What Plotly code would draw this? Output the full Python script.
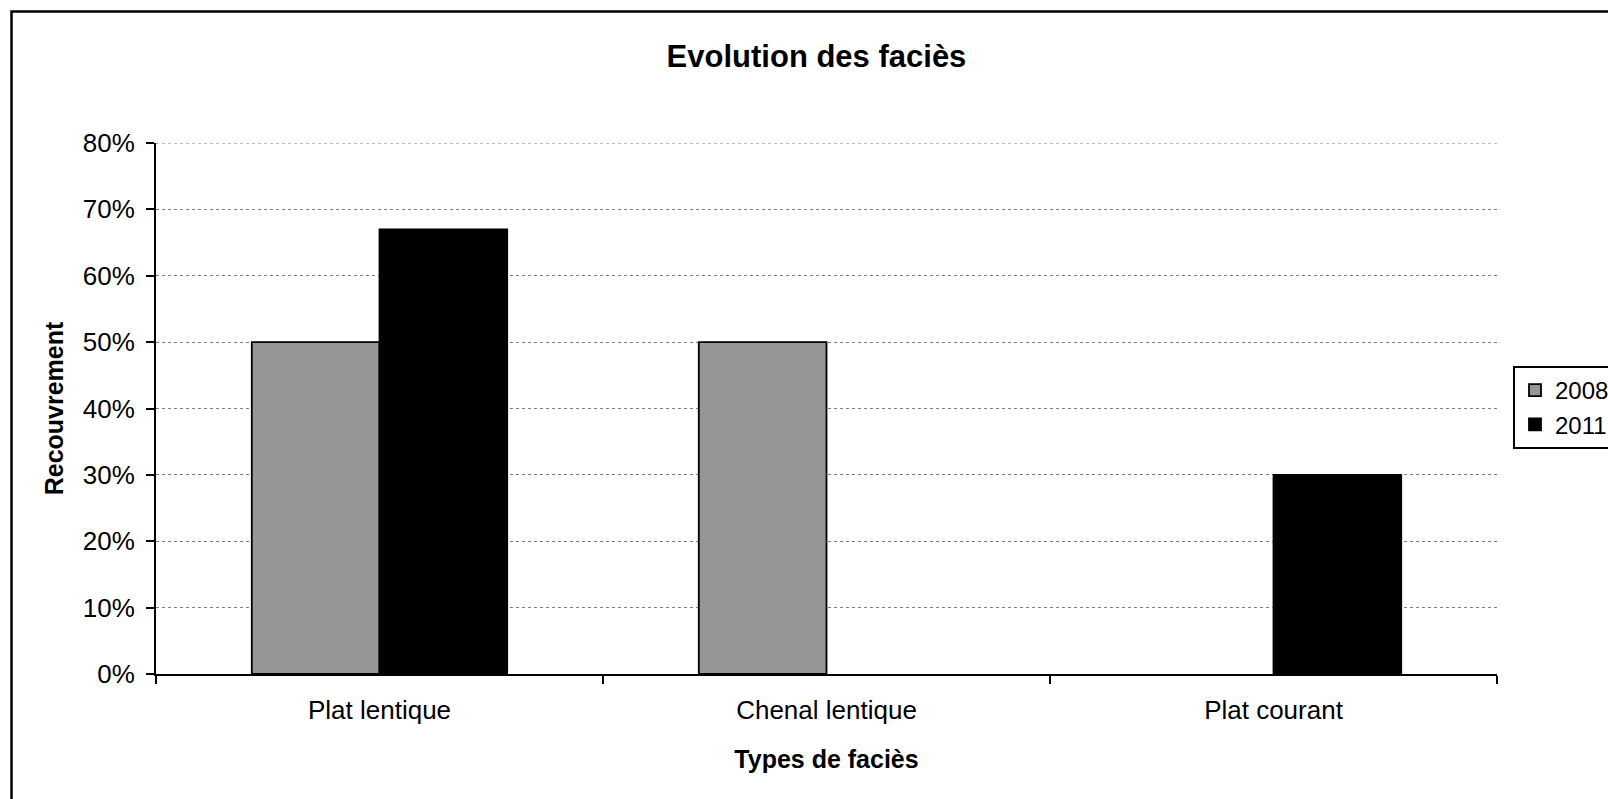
import plotly.graph_objects as go

# Data
categories = ["Plat lentique", "Chenal lentique", "Plat courant"]
series_names = ["2008", "2011"]
values_2008 = [0.50, 0.50, None]
values_2011 = [0.67, None, 0.30]
y_ticks = [0.0, 0.1, 0.2, 0.3, 0.4, 0.5, 0.6, 0.7, 0.8]

W, H = 1608, 799
L, R, T, B = 156, 1497, 143, 674  # plot area in pixels
FONT = "Liberation Sans, Arial, sans-serif"
GRID = dict(color="#808080", width=1, dash="dot")

fig = go.Figure()
fig.add_trace(go.Bar(
    name=series_names[0], x=categories, y=values_2008,
    marker=dict(color="#969696", line=dict(color="#000000", width=1.8)),
))
fig.add_trace(go.Bar(
    name=series_names[1], x=categories, y=values_2011,
    marker=dict(color="#000000", line=dict(color="#000000", width=1.8)),
))

def px_x(p):
    return (p - L) / (R - L)

def px_y(p):
    return (B - p) / (B - T)

# outer chart frame (runs off the right and bottom edges)
fig.add_shape(type="rect", xref="paper", yref="paper",
              x0=px_x(11.5), x1=px_x(1640), y0=px_y(830), y1=px_y(11.5),
              line=dict(color="#000000", width=2.5), fillcolor="rgba(0,0,0,0)",
              layer="below")

# top gridline sits on the upper edge of the plot area, so draw it explicitly
fig.add_shape(type="line", xref="paper", yref="y", x0=0, x1=1,
              y0=y_ticks[-1], y1=y_ticks[-1], line=GRID, layer="below")

fig.update_layout(
    width=W, height=H,
    margin=dict(l=L, r=W - R, t=T, b=H - B, autoexpand=False),
    paper_bgcolor="#ffffff", plot_bgcolor="#ffffff",
    barmode="group", bargap=1.5 / 3.5, bargroupgap=0,
    font=dict(family=FONT, size=26, color="#000000"),
    title=dict(text="<b>Evolution des faciès</b>", font=dict(size=31, color="#000000"),
               x=816.5 / W, xref="container", xanchor="center",
               y=1 - 56 / H, yref="container", yanchor="middle"),
    legend=dict(xref="container", yref="container", x=1513 / W, y=1 - 366 / H,
                xanchor="left", yanchor="top",
                bordercolor="#000000", borderwidth=2, bgcolor="#ffffff",
                font=dict(size=24, color="#000000"), itemwidth=30),
    showlegend=True,
)

fig.update_xaxes(
    showline=True, linecolor="#000000", linewidth=2,
    ticks="outside", tickson="boundaries", ticklen=8, tickwidth=2, tickcolor="#000000",
    showgrid=False, mirror=False,
    tickfont=dict(size=26), ticklabelstandoff=12,
    title=dict(text="<b>Types de faciès</b>", font=dict(size=25), standoff=26),
)
fig.update_yaxes(
    range=[0, 0.8], tickvals=y_ticks, tickformat=".0%",
    showline=True, linecolor="#000000", linewidth=2,
    ticks="outside", ticklen=8, tickwidth=2, tickcolor="#000000",
    showgrid=True, gridcolor=GRID["color"], gridwidth=GRID["width"], griddash=GRID["dash"],
    zeroline=False,
    tickfont=dict(size=26), ticklabelstandoff=6,
    title=dict(text="<b>Recouvrement</b>", font=dict(size=25), standoff=12),
)

fig.write_html("out.html")
